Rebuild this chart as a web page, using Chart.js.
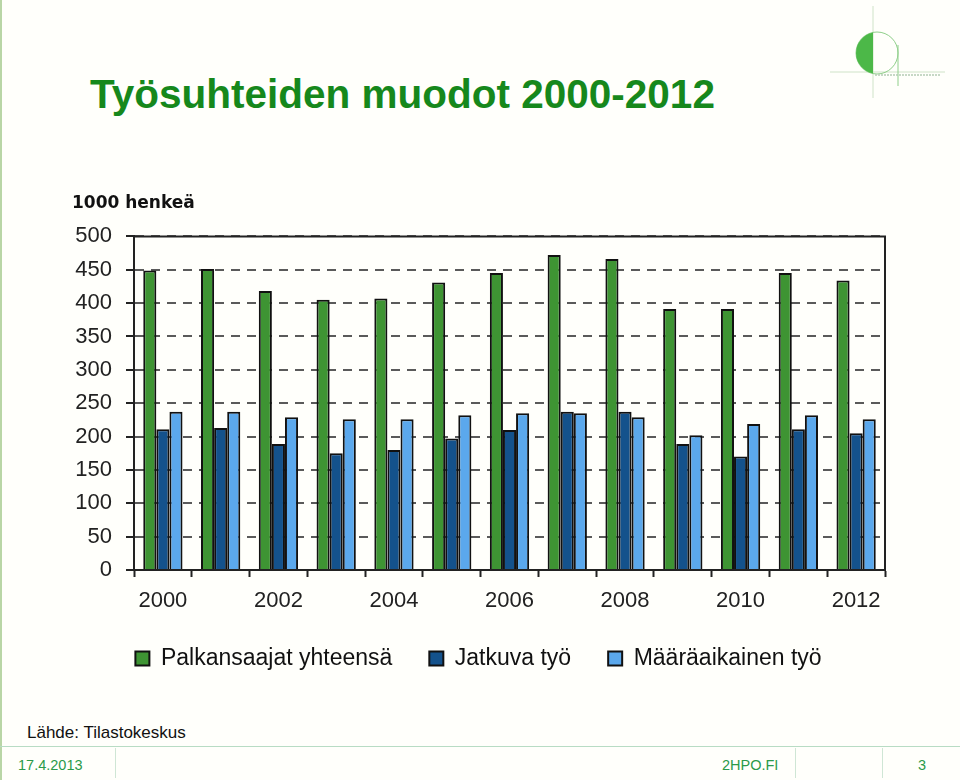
<!DOCTYPE html>
<html>
<head>
<meta charset="utf-8">
<script src="https://cdn.jsdelivr.net/npm/chart.js@4"></script>
<style>
  body { margin: 0; background: #fffffb; font-family: "Liberation Sans", Arial, sans-serif; }
  #page { position: relative; width: 960px; height: 780px; overflow: hidden; }
  #leftline { position: absolute; left: 0; top: 0; width: 2px; height: 780px; background: #b9d6a6; }
  h1 { position: absolute; left: 90px; top: 71px; margin: 0; font-size: 40.5px; font-weight: bold; color: #16881c; white-space: nowrap; }
  #chartbox { position: absolute; left: 60px; top: 185px; width: 840px; height: 505px; }
  #source { position: absolute; left: 27px; top: 723px; font-size: 17px; color: #111; }
  #footline { position: absolute; left: 0; top: 746px; width: 960px; height: 1px; background: #b8dcc4; }
  .sep { position: absolute; top: 748px; width: 1px; height: 30px; background: #cfe6d5; }
  .foot { position: absolute; top: 757px; font-size: 14.5px; color: #2a9a4a; }
  #logo { position: absolute; left: 825px; top: 0; }
</style>
</head>
<body>
<div id="page">
  <div id="leftline"></div>
  <svg id="logo" width="130" height="105">
    <line x1="48" y1="6" x2="48" y2="98" stroke="#cfe3c8" stroke-width="1"/>
    <line x1="5" y1="72" x2="120" y2="72" stroke="#cfe3c8" stroke-width="1"/>
    <circle cx="52" cy="53" r="21" fill="none" stroke="#8fcf8a" stroke-width="1"/>
    <path d="M31 53 A21 21 0 0 1 48 32.4 L48 73.6 A21 21 0 0 1 31 53 Z" fill="#4cb848"/>
    <line x1="73" y1="45" x2="73" y2="86" stroke="#8fcf8a" stroke-width="1"/>
    <line x1="50" y1="75" x2="116" y2="75" stroke="#b5ccb5" stroke-width="1.5" stroke-dasharray="2 1"/>
  </svg>
  <h1>Työsuhteiden muodot 2000-2012</h1>
  <div id="chartbox"><canvas id="mainChart" width="840" height="505"></canvas></div>
  <div id="source">Lähde: Tilastokeskus</div>
  <div id="footline"></div>
  <div class="sep" style="left:115px"></div>
  <div class="sep" style="left:795px"></div>
  <div class="sep" style="left:882px"></div>
  <div class="foot" style="left:18px">17.4.2013</div>
  <div class="foot" style="left:722px">2HPO.FI</div>
  <div class="foot" style="left:918px">3</div>
</div>
<script>
// Data (1000 henkeä)
const years = ["2000", "2001", "2002", "2003", "2004", "2005", "2006", "2007", "2008", "2009", "2010", "2011", "2012"];
const palkansaajat = [449, 451, 418, 405, 407, 431, 445, 472, 466, 391, 391, 445, 434];
const jatkuva = [211, 213, 189, 175, 180, 197, 210, 237, 237, 189, 170, 211, 205];
const maaraaikainen = [237, 237, 229, 226, 226, 232, 235, 235, 229, 202, 219, 232, 226];

const tickFont = { family: "'Liberation Sans', Arial, sans-serif", size: 22 };

// solid frame on top and right of plot area
const framePlugin = {
  id: "frame",
  afterDraw(chart) {
    const { ctx, chartArea: a } = chart;
    ctx.save();
    ctx.strokeStyle = "#222";
    ctx.lineWidth = 2;
    ctx.beginPath();
    ctx.moveTo(a.left, a.top);
    ctx.lineTo(a.right, a.top);
    ctx.lineTo(a.right, a.bottom);
    ctx.stroke();
    ctx.restore();
  },
};

const barStyle = { borderColor: "#111", borderWidth: 2, categoryPercentage: 0.68, barPercentage: 1.0 };

const configData = {
  labels: years,
  datasets: [
    { label: "Palkansaajat yhteensä", data: palkansaajat, backgroundColor: "#3e9433", ...barStyle },
    { label: "Jatkuva työ", data: jatkuva, backgroundColor: "#14528c", ...barStyle },
    { label: "Määräaikainen työ", data: maaraaikainen, backgroundColor: "#5ba8ec", ...barStyle },
  ],
};

let config = {
  type: "bar",
  data: configData,
  plugins: [framePlugin],
  options: {
    responsive: false,
    animation: false,
    layout: { padding: { left: 12, right: 15, top: 0, bottom: 10 } },
    plugins: {
      title: {
        display: true,
        text: "1000 henkeä",
        align: "start",
        color: "#111",
        font: { family: "'DejaVu Sans', sans-serif", size: 17, weight: "bold" },
        padding: { top: 8, bottom: 23 },
      },
      legend: {
        position: "bottom",
        labels: {
          color: "#111",
          font: { family: "'Liberation Sans', Arial, sans-serif", size: 23 },
          boxWidth: 14,
          boxHeight: 14,
          padding: 37,
        },
      },
      tooltip: { enabled: false },
    },
    scales: {
      x: {
        offset: true,
        afterFit(scale) { scale.height = 40; },
        grid: { offset: true, drawOnChartArea: false, tickLength: 7, tickColor: "#222", tickWidth: 2 },
        border: { color: "#222", width: 2 },
        ticks: {
          autoSkip: false,
          maxRotation: 0,
          padding: 11,
          color: "#222",
          font: tickFont,
          callback: function (value, index) {
            return index % 2 === 0 ? this.getLabelForValue(value) : "";
          },
        },
      },
      y: {
        min: 0,
        max: 500,
        afterFit(scale) { scale.width = 62; },
        grid: { color: "#5a5a5a", lineWidth: 2, tickLength: 8, tickColor: "#222", tickWidth: 2 },
        border: { color: "#222", width: 2, dash: [9, 7] },
        ticks: { stepSize: 50, padding: 14, color: "#222", font: tickFont },
      },
    },
  },
};

let mainChart = new Chart(document.getElementById("mainChart"), config);
</script>
</body>
</html>
